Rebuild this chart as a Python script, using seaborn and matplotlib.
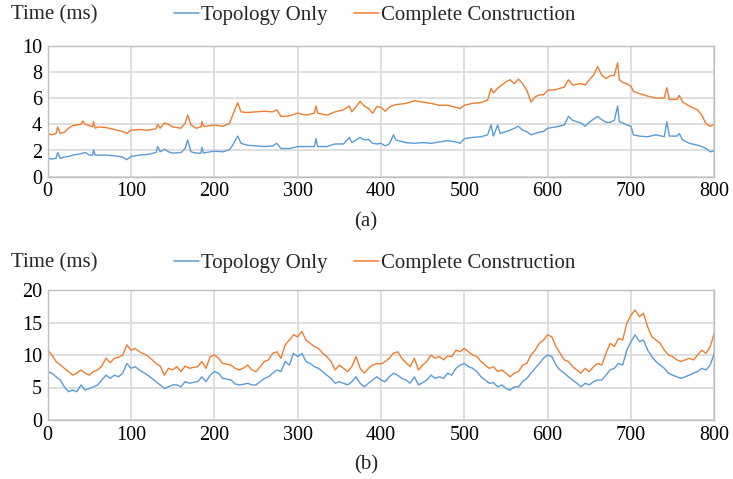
import numpy as np
import pandas as pd
import matplotlib
matplotlib.use("Agg")
import matplotlib.pyplot as plt
import seaborn as sns

# ---------------- data (a) ----------------
x_a = [0, 5, 10, 12, 15, 20, 25, 30, 40, 42, 45, 50, 54, 55, 57, 60, 70, 80, 90, 95,
       100, 110, 120, 130, 132, 135, 140, 145, 150, 160, 165, 168, 172, 178, 184, 185, 187, 190,
       200, 210, 218, 222, 228, 232, 240, 250, 260, 270, 275, 280, 290,
       300, 310, 320, 322, 324, 335, 345, 355, 362, 365, 375, 380, 385, 390, 395,
       400, 405, 410, 415, 418, 430, 440, 450, 460, 470, 480, 490, 495,
       500, 510, 520, 528, 532, 535, 540, 543, 550, 555, 560, 565, 570, 575, 580, 585, 590, 595,
       600, 610, 620, 625, 630, 640, 645, 650, 655, 660, 665, 670, 675, 680, 684, 686, 690, 695,
       700, 703, 710, 720, 730, 740, 743, 746, 755, 758, 762, 770, 780, 785, 790, 795, 800]
topo_a = [1.4, 1.35, 1.4, 1.85, 1.4, 1.5, 1.55, 1.65, 1.75, 1.8, 1.85, 1.65, 1.65, 2.05, 1.65, 1.65, 1.65, 1.6, 1.5, 1.3,
          1.55, 1.65, 1.7, 1.85, 2.3, 1.9, 2.1, 1.9, 1.8, 1.85, 2.15, 2.8, 1.9, 1.8, 1.8, 2.25, 1.8, 1.85,
          1.95, 1.9, 2.05, 2.4, 3.1, 2.55, 2.4, 2.35, 2.3, 2.35, 2.55, 2.15, 2.15,
          2.3, 2.3, 2.3, 2.9, 2.3, 2.3, 2.5, 2.5, 3.0, 2.6, 3.0, 2.8, 2.85, 2.55, 2.5,
          2.55, 2.35, 2.5, 3.2, 2.8, 2.6, 2.55, 2.6, 2.55, 2.65, 2.75, 2.65, 2.55,
          2.9, 3.0, 3.05, 3.2, 3.95, 3.1, 3.95, 3.3, 3.45, 3.55, 3.7, 3.85, 3.55, 3.45, 3.2, 3.3, 3.4, 3.45,
          3.7, 3.8, 3.95, 4.6, 4.3, 4.1, 3.85, 4.15, 4.4, 4.6, 4.35, 4.15, 4.15, 4.3, 5.4, 4.2, 4.1, 3.95,
          3.85, 3.2, 3.1, 3.05, 3.2, 3.05, 4.2, 3.1, 3.1, 3.3, 2.8, 2.55, 2.4, 2.3, 2.15, 1.9, 1.95]
full_a = [3.3, 3.2, 3.3, 3.8, 3.3, 3.4, 3.7, 3.9, 4.0, 4.25, 4.0, 3.9, 3.8, 4.2, 3.7, 3.8, 3.75, 3.6, 3.45, 3.3,
          3.55, 3.6, 3.55, 3.65, 4.0, 3.7, 4.1, 4.0, 3.8, 3.7, 4.1, 4.7, 3.95, 3.7, 3.8, 4.2, 3.85, 3.85,
          3.95, 3.85, 4.05, 4.7, 5.65, 4.95, 4.9, 4.95, 5.0, 4.95, 5.1, 4.6, 4.65,
          4.85, 4.7, 4.85, 5.4, 4.85, 4.7, 4.95, 5.1, 5.4, 4.95, 5.75, 5.4, 5.2, 4.85, 5.35,
          5.3, 5.0, 5.3, 5.45, 5.5, 5.6, 5.8, 5.7, 5.6, 5.45, 5.45, 5.3, 5.2,
          5.45, 5.6, 5.65, 5.85, 6.75, 6.4, 6.75, 6.9, 7.25, 7.4, 7.1, 7.45, 7.1, 6.6, 5.7, 6.1, 6.25, 6.25,
          6.6, 6.65, 6.85, 7.4, 7.0, 7.1, 7.0, 7.4, 7.75, 8.4, 7.75, 7.5, 7.7, 7.75, 8.7, 7.4, 7.2, 7.1,
          6.9, 6.5, 6.35, 6.15, 6.0, 6.0, 6.8, 5.9, 5.9, 6.2, 5.7, 5.4, 5.1, 4.7, 4.05, 3.85, 4.0]

# ---------------- data (b) ----------------
x_b = list(range(0, 805, 5))
topo_b = [7.45, 7.2, 6.65, 6.15, 5.1, 4.35, 4.6, 4.35, 5.4, 4.6, 4.85, 5.1, 5.4, 6.15, 6.9, 6.4, 6.9, 6.65, 7.2, 8.7,
          7.95, 8.2, 7.7, 7.3, 6.9, 6.4, 5.9, 5.4, 4.85, 5.1, 5.4, 5.4, 5.1, 5.9, 5.65, 5.8, 5.9, 6.65, 5.9, 6.9,
          7.45, 7.2, 6.4, 6.3, 6.15, 5.55, 5.4, 5.5, 5.65, 5.4, 5.4, 5.9, 6.4, 6.65, 7.2, 7.7, 7.45, 9.0, 8.45, 10.25,
          9.75, 10.25, 9.0, 8.7, 8.2, 7.95, 7.45, 6.9, 6.4, 5.65, 5.9, 5.65, 5.4, 5.9, 6.65, 5.65, 5.1, 5.65, 6.15, 6.65,
          6.15, 5.9, 6.65, 7.2, 6.9, 6.4, 6.15, 5.65, 6.65, 5.4, 5.75, 6.15, 6.9, 6.4, 6.65, 6.4, 7.2, 6.9, 7.95, 8.45,
          8.7, 8.2, 7.95, 7.45, 6.65, 6.15, 5.65, 5.75, 5.1, 5.4, 4.85, 4.6, 5.1, 5.1, 5.9, 6.4, 7.2, 7.95, 8.7, 9.5,
          10.0, 9.75, 8.45, 7.7, 7.2, 6.65, 6.15, 5.65, 5.1, 5.65, 5.4, 5.9, 6.15, 6.15, 6.9, 7.7, 7.95, 8.7, 8.45, 10.75,
          12.05, 13.1, 12.05, 12.3, 10.75, 9.75, 9.0, 8.45, 7.95, 7.2, 6.9, 6.65, 6.4, 6.65, 6.9, 7.2, 7.45, 7.95, 7.7, 8.45,
          10.25]
full_b = [10.8, 10.0, 9.0, 8.5, 7.95, 7.45, 6.9, 7.2, 7.7, 7.2, 6.9, 7.45, 7.7, 8.3, 9.5, 8.8, 9.5, 9.65, 10.0, 11.55,
          10.75, 11.0, 10.5, 10.2, 9.85, 9.3, 8.7, 8.3, 6.9, 7.95, 7.7, 8.2, 7.45, 8.3, 7.95, 8.1, 8.2, 9.0, 7.95, 9.75,
          10.0, 9.5, 8.7, 8.6, 8.45, 7.95, 7.7, 8.0, 8.45, 7.7, 7.45, 8.2, 9.0, 9.25, 10.25, 10.5, 9.5, 11.55, 12.3, 13.1,
          12.8, 13.6, 12.3, 11.8, 11.3, 11.0, 10.25, 9.75, 9.0, 7.7, 8.45, 7.95, 7.45, 8.2, 9.75, 7.95, 7.2, 7.95, 8.45, 8.7,
          8.6, 9.0, 9.5, 10.25, 10.5, 9.5, 8.8, 8.2, 9.5, 7.7, 8.45, 9.0, 10.0, 9.5, 9.75, 9.25, 9.85, 9.75, 10.75, 10.5,
          11.0, 10.5, 10.0, 9.75, 9.0, 8.45, 7.95, 8.2, 7.45, 7.7, 7.2, 6.65, 7.2, 7.45, 8.45, 8.7, 10.0, 10.75, 11.8, 12.3,
          13.1, 12.8, 11.3, 10.25, 9.25, 9.0, 8.2, 7.7, 7.2, 7.95, 7.45, 8.2, 8.7, 8.45, 10.25, 11.8, 11.3, 12.55, 12.3, 14.85,
          16.15, 16.9, 15.9, 16.4, 14.35, 12.8, 12.3, 11.8, 10.75, 10.0, 9.75, 9.25, 9.0, 9.25, 9.5, 9.25, 10.0, 10.75, 10.25, 11.3,
          13.3]

series_names = ["Topology Only", "Complete Construction"]
x_ticks = [0, 100, 200, 300, 400, 500, 600, 700, 800]
y_ticks_a = [0, 2, 4, 6, 8, 10]
y_ticks_b = [0, 5, 10, 15, 20]
ylabel = "Time (ms)"
captions = ["(a)", "(b)"]

# ---------------- styling ----------------
sns.set_theme(style="white")
plt.rcParams["font.family"] = ["Liberation Serif", "DejaVu Serif"]

colors = {"Topology Only": "#5B9BD5", "Complete Construction": "#ED7D31"}
grid_c = "#D9D9D9"
spine_c = "#BFBFBF"

fig = plt.figure(figsize=(7.33, 4.79), dpi=100)
W, H = 733, 479


def make_ax(top_px, bottom_px):
    left_px, right_px = 47.7, 714.3
    return fig.add_axes([left_px / W, 1 - bottom_px / H,
                         (right_px - left_px) / W, (bottom_px - top_px) / H])


ax_a = make_ax(45.7, 176.7)
ax_b = make_ax(290, 420)

panels = [
    (ax_a, x_a, topo_a, full_a, y_ticks_a, 15.0, 222.0),
    (ax_b, x_b, topo_b, full_b, y_ticks_b, 263.0, 465.0),
]

for ax, xs, t, f, yt, label_y, cap_y in panels:
    df = pd.DataFrame({
        "x": list(xs) * 2,
        "y": list(t) + list(f),
        "series": [series_names[0]] * len(xs) + [series_names[1]] * len(xs),
    })
    sns.lineplot(data=df, x="x", y="y", hue="series", palette=colors,
                 linewidth=1.0, ax=ax, legend=False, estimator=None, sort=False)
    ax.set_xlim(0, 800)
    ax.set_ylim(yt[0], yt[-1])
    ax.set_xticks(x_ticks)
    ax.set_yticks(yt)
    ax.set_xticklabels([str(v) for v in x_ticks], fontsize=14.5)
    ax.set_yticklabels([str(v) for v in yt], fontsize=14.5)
    ax.tick_params(length=0, pad=4, colors="black")
    ax.set_xlabel("")
    ax.set_ylabel("")
    ax.grid(True, color=grid_c, linewidth=1.2)
    ax.set_axisbelow(True)
    for s in ax.spines.values():
        s.set_visible(True)
        s.set_color(spine_c)
        s.set_linewidth(1.0)

    # y label on top-left
    fig.text(11 / W, 1 - label_y / H, ylabel, fontsize=15, ha="left", va="center")
    # legend entries
    handles = [plt.Line2D([], [], color=colors[n], linewidth=1.1) for n in series_names]
    fig.legend(handles, series_names, loc="center left",
               bbox_to_anchor=(174 / W, 1 - label_y / H), ncol=2, frameon=False,
               fontsize=15, handlelength=1.2, handletextpad=0.1, columnspacing=1.25,
               borderaxespad=0, borderpad=0)

for (ax, xs, t, f, yt, label_y, cap_y), cap in zip(panels, captions):
    fig.text(366 / W, 1 - cap_y / H, cap, fontsize=15, ha="center", va="center")

fig.savefig("out.png", dpi=100)
